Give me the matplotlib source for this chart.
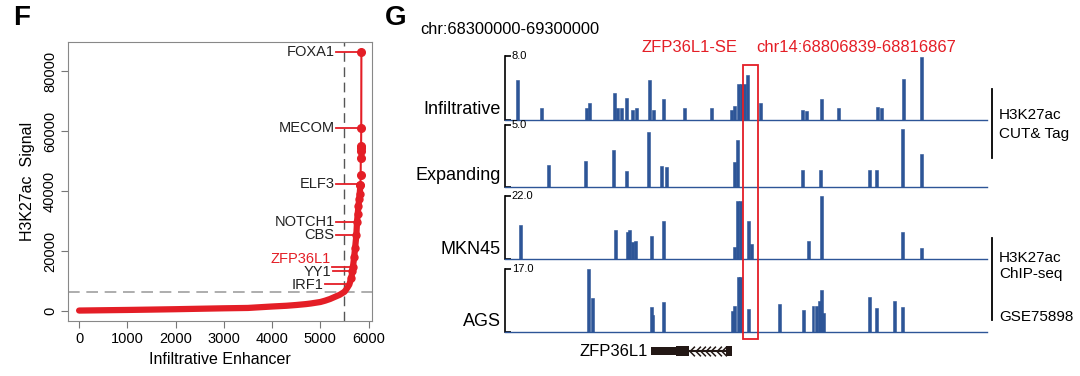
import matplotlib.pyplot as plt
import numpy as np
from matplotlib.patches import Rectangle
from matplotlib.path import Path
from matplotlib.transforms import blended_transform_factory

plt.rcParams['font.family'] = ['Liberation Sans', 'DejaVu Sans']

# ---- panel F data (ranked enhancer signal) ----
rank = [0, 500, 1000, 1500, 2000, 2500, 3000, 3500, 4000, 4300, 4500, 4700, 4800, 4900, 5000,
        5100, 5200, 5300, 5400, 5450, 5500, 5550, 5600, 5640, 5665, 5676, 5700, 5720, 5745,
        5760, 5775, 5790, 5805, 5815, 5830]
signal = [150, 250, 350, 470, 600, 750, 900, 1020, 1500, 1750, 2000, 2300, 2500, 2750, 3000,
          3450, 4000, 4700, 5400, 5900, 6400, 7500, 8800, 11000, 13300, 14800, 18000, 21000, 25200,
          29800, 32500, 35000, 37500, 39000, 42000]
top_rank = [5830, 5835, 5838, 5840, 5842, 5844, 5847, 5850]
top_signal = [42000, 45200, 51100, 53500, 54500, 55000, 61100, 86200]

genes = ['FOXA1', 'MECOM', 'ELF3', 'NOTCH1', 'CBS', 'ZFP36L1', 'YY1', 'IRF1']
gene_signal = [86200, 61100, 42200, 29800, 25200, 14800, 13300, 8900]
gene_text_y = [86200, 61100, 42200, 29800, 25200, 17300, 12900, 8600]
gene_text_x = [5297, 5297, 5297, 5297, 5297, 5214, 5235, 5069]
se_cut_rank = 5500
se_cut_signal = 6400

# ---- panel G data (peaks, position in Mb, height) ----
inf_pos = [68.3256, 68.375, 68.4688, 68.475, 68.5271, 68.5327, 68.541, 68.5515, 68.5646, 68.5729,
           68.6, 68.6083, 68.6285, 68.6729, 68.7292, 68.7702, 68.7771, 68.784, 68.7902, 68.7965,
           68.8035, 68.8292, 68.9181, 68.925, 68.9563, 68.991, 69.0729, 69.0813, 69.1271, 69.1638]
inf_h = [5.0, 1.5, 1.5, 2.1, 3.4, 1.5, 1.5, 2.8, 1.2, 1.5,
         5.0, 1.3, 2.6, 1.5, 1.5, 1.2, 1.8, 4.5, 4.5, 4.5,
         5.6, 2.1, 1.2, 1.1, 2.6, 1.5, 1.6, 1.5, 5.1, 7.9]
exp_pos = [68.3902, 68.4667, 68.5244, 68.5515, 68.5985, 68.6256, 68.6348, 68.7756, 68.7827,
           68.9167, 68.9548, 69.0563, 69.0708, 69.1256, 69.1638]
exp_h = [1.77, 2.1, 3.0, 1.26, 4.43, 1.7, 1.6, 2.0, 3.77, 1.4, 1.34, 1.39, 1.39, 4.65, 2.65]
mkn_pos = [68.3313, 68.5292, 68.5535, 68.5583, 68.564, 68.5708, 68.6035, 68.6298, 68.7756,
           68.7827, 68.7881, 68.8048, 68.8104, 68.9306, 68.9563, 69.1256, 69.1638]
mkn_h = [12.0, 10.0, 9.6, 10.0, 5.8, 6.4, 7.9, 13.3, 4.3, 20.2, 20.2, 13.3, 5.2, 6.4, 22.0, 9.6, 3.8]
ags_pos = [68.4735, 68.4806, 68.6035, 68.6069, 68.6298, 68.7723, 68.7771, 68.784, 68.7881,
           68.8048, 68.8702, 68.9188, 68.939, 68.9458, 68.9527, 68.9563, 68.9598, 69.0563,
           69.0708, 69.1075, 69.1256]
ags_h = [17.0, 9.3, 6.7, 4.5, 8.1, 5.7, 7.1, 14.9, 14.9, 6.1, 7.6, 5.9, 7.0, 7.0, 8.5, 11.3, 5.0,
         9.5, 6.4, 8.5, 6.8]
track_names = ['Infiltrative', 'Expanding', 'MKN45', 'AGS']
track_max = [8.0, 5.0, 22.0, 17.0]
region = (68.3, 69.3)
se_box = (68.794, 68.825)
gene_utr = (68.6025, 68.654)
gene_cds = (68.654, 68.6817)
gene_exon2 = (68.759, 68.770)

red = '#e41e26'
blue = '#2d5597'
W, H = 1080, 376


def box(x0, y0, x1, y1):
    return [x0 / W, 1 - y1 / H, (x1 - x0) / W, (y1 - y0) / H]


fig = plt.figure(figsize=(10.8, 3.76), dpi=100)

# ================= F =================
ax = fig.add_axes(box(68, 42, 372, 321))
ax.axvline(se_cut_rank, color='#555555', lw=1, dashes=(7, 4), zorder=1)
ax.axhline(se_cut_signal, color='#a0a0a0', lw=1.2, dashes=(7, 4), zorder=1)
ax.plot(rank, signal, '-', color=red, lw=4.5, solid_capstyle='round', zorder=3)
ax.plot(rank[-12:], signal[-12:], 'o', color=red, ms=5, zorder=3)
ax.plot(top_rank, top_signal, '-o', color=red, lw=1.5, ms=5.5, zorder=3)

for g, s, ty, tx in zip(genes, gene_signal, gene_text_y, gene_text_x):
    if s in top_signal:
        xend = top_rank[top_signal.index(s)]
    else:
        xend = np.interp(s, signal, rank)
    ax.plot([tx + 20, xend], [s, s], color=red, lw=1.3, zorder=2)
    ax.text(tx, ty, g, ha='right', va='center', fontsize=10.5,
            color=red if g == 'ZFP36L1' else '#222222')

ax.set_xlim(-230, 6070)
ax.set_ylim(-3333, 89667)
ax.set_xticks(range(0, 6001, 1000))
ax.set_yticks(range(0, 80001, 20000))
ax.tick_params(direction='out', length=5, color='#777777', labelsize=10.5, pad=3)
for lab in ax.get_yticklabels():
    lab.set_rotation(90)
    lab.set_va('center')
for sp in ax.spines.values():
    sp.set_color('#888888')
ax.set_xlabel('Infiltrative Enhancer', fontsize=11.5, labelpad=4)
ax.set_ylabel('H3K27ac  Signal', fontsize=11.5, labelpad=6)

fig.text(13 / W, 1 - 18 / H, 'F', fontsize=20, fontweight='bold', va='center')
fig.text(385 / W, 1 - 18 / H, 'G', fontsize=20, fontweight='bold', va='center')

# ================= G =================
tracks = [(inf_pos, inf_h), (exp_pos, exp_h), (mkn_pos, mkn_h), (ags_pos, ags_h)]
tops = [56, 125, 196, 269]
bases = [120, 187, 259, 332]
label_y = [110, 175, 250, 322]
track_axes = []
for (pos, h), name, mx, t, b, ly in zip(tracks, track_names, track_max, tops, bases, label_y):
    tax = fig.add_axes(box(505, t, 987, b))
    tax.patch.set_alpha(0)
    tax.bar(pos, np.minimum(h, mx), width=0.0062, color=blue, edgecolor=blue, lw=0.4)
    tax.set_xlim(region)
    tax.set_ylim(0, mx)
    for s in ['top', 'right']:
        tax.spines[s].set_visible(False)
    tax.spines['bottom'].set_color(blue)
    tax.spines['bottom'].set_linewidth(1)
    tax.spines['left'].set_color('black')
    tax.spines['left'].set_linewidth(1.2)
    tax.set_xticks([])
    tax.set_yticks([0, mx])
    tax.tick_params(axis='y', direction='in', length=4, width=1.2, labelleft=False)
    tax.text(0.014, 1.0, '%.1f' % mx, transform=tax.transAxes, fontsize=8, va='center', ha='left')
    fig.text(501 / W, 1 - ly / H, name, ha='right', va='center', fontsize=13)
    track_axes.append(tax)

# super-enhancer box across tracks
tr = blended_transform_factory(track_axes[0].transData, fig.transFigure)
fig.add_artist(Rectangle((se_box[0], 1 - 339 / H), se_box[1] - se_box[0], (339 - 65) / H,
                         transform=tr, fill=False, edgecolor=red, lw=1.3, zorder=10))

# gene model
gax = fig.add_axes(box(505, 340, 987, 362))
gax.set_xlim(region)
gax.set_ylim(-1, 1)
gax.axis('off')
dark = '#231815'
gax.add_patch(Rectangle((gene_utr[0], -0.32), gene_utr[1] - gene_utr[0], 0.64, color=dark, lw=0))
gax.add_patch(Rectangle((gene_cds[0], -0.45), gene_cds[1] - gene_cds[0], 0.9, color=dark, lw=0))
gax.add_patch(Rectangle((gene_exon2[0], -0.45), gene_exon2[1] - gene_exon2[0], 0.9, color=dark, lw=0))
gax.plot([gene_cds[1], gene_exon2[0]], [0, 0], color=dark, lw=1.5)
chevron = Path([(0.5, 1), (-0.5, 0), (0.5, -1)], [Path.MOVETO, Path.LINETO, Path.LINETO])
chev = np.linspace(gene_cds[1] + 0.007, gene_exon2[0] - 0.005, 7)
gax.plot(chev, np.zeros(len(chev)), ls='none', marker=chevron, ms=7, mfc='none', mec=dark, mew=1.1)
gax.text(gene_utr[0] - 0.006, 0, 'ZFP36L1', ha='right', va='center', fontsize=12)

fig.text(420 / W, 1 - 30 / H, 'chr:68300000-69300000', fontsize=11.8, va='center')
fig.text(642 / W, 1 - 48 / H, 'ZFP36L1-SE', fontsize=12, color=red, va='center')
fig.text(756 / W, 1 - 48 / H, 'chr14:68806839-68816867', fontsize=12, color=red, va='center')

# right-hand brackets
fig.add_artist(plt.Line2D([992 / W, 992 / W], [1 - 89 / H, 1 - 158 / H], color='black', lw=1.3))
fig.add_artist(plt.Line2D([992 / W, 992 / W], [1 - 238 / H, 1 - 320 / H], color='black', lw=1.3))
fig.text(999 / W, 1 - 115 / H, 'H3K27ac', fontsize=11, va='center')
fig.text(999 / W, 1 - 134 / H, 'CUT& Tag', fontsize=11, va='center')
fig.text(999 / W, 1 - 258 / H, 'H3K27ac', fontsize=11, va='center')
fig.text(999 / W, 1 - 274 / H, 'ChIP-seq', fontsize=11, va='center')
fig.text(999 / W, 1 - 317 / H, 'GSE75898', fontsize=11, va='center')

fig.savefig('out.png', dpi=100)
